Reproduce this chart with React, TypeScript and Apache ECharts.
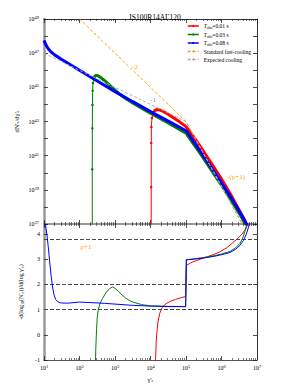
import React, { useEffect, useRef } from 'react';
import * as echarts from 'echarts';

// ---------- data (log10 values) ----------
const chartTitle = 'IS100R14AΓ120';
const xTickExponents = [1, 2, 3, 4, 5, 6, 7];
const yTopTickExponents = [37, 39, 41, 43, 45, 47, 49];
const yBottomTicks = [-1, 0, 1, 2, 3, 4];
const pPlusOne = 3.8;
const guideLevels = [1, 2, pPlusOne];

const seriesNames = ['Tobs=0.01 s', 'Tobs=0.03 s', 'Tobs=0.08 s', 'Standard fast-cooling', 'Expected cooling'];

// top panel: [log10 gamma, log10 dN/dgamma]
const redTopRise = [[4.02, 36.9], [4.02, 39.16], [4.022, 41.74], [4.025, 42.68], [4.04, 43.2], [4.07, 43.45], [4.1, 43.6]];
const redTop = [[4.1, 43.6], [4.17, 43.7], [4.25, 43.68], [4.36, 43.59], [4.45, 43.48], [4.54, 43.37], [4.7, 43.15], [4.82, 42.98], [5.0, 42.7], [5.2, 42.14], [5.39, 41.57], [5.7, 40.6], [5.96, 39.76], [6.15, 39.1], [6.32, 38.5], [6.45, 38.0], [6.58, 37.5], [6.68, 37.1], [6.75, 36.8]];
const greenTopRise = [[2.36, 36.9], [2.36, 40.2], [2.362, 42.6], [2.365, 43.97], [2.37, 44.8], [2.38, 45.25], [2.4, 45.5]];
const greenTop = [[2.4, 45.5], [2.44, 45.66], [2.47, 45.7], [2.52, 45.68], [2.6, 45.57], [2.7, 45.4], [2.8, 45.22], [2.9, 45.03], [3.0, 44.84], [3.1, 44.66], [3.2, 44.5], [3.3, 44.35], [3.4, 44.21], [3.5, 44.08], [3.75, 43.78], [4.0, 43.49], [4.5, 42.92], [5.0, 42.32], [5.2, 41.72], [5.39, 41.16], [5.7, 40.2], [6.0, 39.27], [6.24, 38.5], [6.4, 37.96], [6.52, 37.55], [6.62, 37.18], [6.68, 36.95]];
const blueTop = [[1.0, 47.75], [1.05, 47.5], [1.1, 47.33], [1.15, 47.18], [1.2, 47.07], [1.3, 46.9], [1.5, 46.63], [2.0, 46.0], [2.5, 45.37], [3.0, 44.75], [3.5, 44.16], [4.0, 43.58], [4.5, 43.02], [5.0, 42.46], [5.2, 41.86], [5.39, 41.3], [5.7, 40.34], [6.0, 39.41], [6.24, 38.64], [6.4, 38.1], [6.52, 37.69], [6.62, 37.32], [6.72, 36.93]];
const fastCooling = [[2.0, 49], [5.0, 43], [6.58, 37]];
const expectedCooling = [[1.0, 47], [5.0, 43], [6.58, 37]];

// bottom panel: [log10 gamma, -dlogN/dlog gamma]
const redSlope = [[4.14, -1.1], [4.16, -0.3], [4.18, 0.1], [4.21, 0.5], [4.26, 0.85], [4.33, 1.08], [4.42, 1.22], [4.54, 1.32], [4.7, 1.4], [4.85, 1.47], [4.99, 1.52], [5.01, 2.75], [5.1, 2.83], [5.2, 2.9], [5.4, 3.0], [5.6, 3.1], [5.8, 3.2], [5.96, 3.3], [6.15, 3.46], [6.32, 3.66], [6.45, 3.82], [6.58, 4.0], [6.68, 4.2], [6.76, 4.45]];
const greenSlope = [[2.45, -1.1], [2.46, -0.5], [2.48, 0.2], [2.5, 0.7], [2.53, 1.0], [2.58, 1.25], [2.65, 1.45], [2.75, 1.68], [2.85, 1.84], [2.93, 1.9], [3.0, 1.85], [3.1, 1.72], [3.2, 1.58], [3.3, 1.46], [3.4, 1.37], [3.5, 1.3], [3.75, 1.2], [4.0, 1.15], [4.5, 1.13], [4.99, 1.12], [5.01, 2.98], [5.2, 3.01], [5.5, 3.07], [5.8, 3.14], [6.0, 3.21], [6.24, 3.31], [6.4, 3.46], [6.52, 3.63], [6.6, 3.85], [6.68, 4.2], [6.72, 4.45]];
const blueSlope = [[1.0, 4.6], [1.04, 4.4], [1.08, 4.0], [1.12, 3.5], [1.16, 2.9], [1.2, 2.35], [1.24, 1.9], [1.28, 1.6], [1.33, 1.4], [1.4, 1.3], [1.5, 1.26], [1.7, 1.26], [2.0, 1.3], [2.3, 1.28], [2.7, 1.25], [3.0, 1.22], [3.5, 1.17], [4.0, 1.14], [4.5, 1.12], [4.99, 1.12], [5.01, 2.98], [5.2, 3.0], [5.5, 3.05], [5.8, 3.12], [6.0, 3.18], [6.24, 3.27], [6.4, 3.4], [6.52, 3.55], [6.62, 3.75], [6.7, 4.0], [6.8, 4.45]];

// ---------- styling ----------
const FONT = 'Liberation Serif, DejaVu Serif, serif';
const RED = '#ff0000';
const GREEN = '#008000';
const BLUE = '#0000ff';
const ORANGE = '#ffa500';
const GRAY = '#aaaaaa';

const powPts = (arr: number[][]) => arr.map(([a, b]) => [Math.pow(10, a), Math.pow(10, b)]);
const powX = (arr: number[][]) => arr.map(([a, b]) => [Math.pow(10, a), b]);

const minorTicks: number[] = [];
for (let d = 1; d < 7; d++) for (let k = 2; k <= 9; k++) minorTicks.push(d + Math.log10(k));

const richSup = {
  base: { fontSize: 6, fontFamily: FONT, color: '#000' },
  sup: { fontSize: 4.5, fontFamily: FONT, color: '#000', verticalAlign: 'bottom', padding: [0, 0, 3, 0] },
};

const expLabel = (v: number) => '{base|10}{sup|' + Math.round(v) + '}';

function tickAxis(grid: number, position: string, opts: any = {}) {
  return {
    type: 'value', gridIndex: grid, position, min: 1, max: 7, interval: 1,
    axisLine: { show: false, onZero: false },
    axisTick: { show: true, inside: true, length: 4, lineStyle: { color: '#222', width: 0.8 } },
    axisLabel: { show: false },
    splitLine: { show: false },
    ...opts,
  };
}

function minorAxis(grid: number, position: string) {
  return {
    type: 'value', gridIndex: grid, position, min: 1, max: 7,
    axisLine: { show: false, onZero: false },
    axisTick: { show: true, inside: true, length: 2, customValues: minorTicks, lineStyle: { color: '#222', width: 0.6 } },
    axisLabel: { show: false },
    splitLine: { show: false },
  };
}

function buildOption() {
  const thick = (name: string, color: string, data: number[][], z: number) => ({
    type: 'line', name, xAxisIndex: 0, yAxisIndex: 0, data: powPts(data),
    showSymbol: false, symbol: 'none', lineStyle: { color, width: 3 }, itemStyle: { color }, z,
  });
  const rise = (name: string, color: string, data: number[][], z: number) => ({
    type: 'line', name, xAxisIndex: 0, yAxisIndex: 0, data: powPts(data),
    showSymbol: true, symbol: 'circle', symbolSize: 2.5, lineStyle: { color, width: 1 }, itemStyle: { color }, z,
  });
  const slope = (name: string, color: string, data: number[][], z: number, extra: any = {}) => ({
    type: 'line', name, xAxisIndex: 1, yAxisIndex: 1, data: powX(data),
    showSymbol: false, symbol: 'none', lineStyle: { color, width: 1 }, itemStyle: { color }, z, ...extra,
  });

  return {
    animation: false,
    backgroundColor: '#fff',
    title: {
      text: chartTitle, left: 150, top: 8, textAlign: 'center',
      textStyle: { fontFamily: FONT, fontSize: 7.5, fontWeight: 'normal', color: '#000' },
    },
    legend: {
      orient: 'vertical', left: 187, top: 23, padding: 0, itemWidth: 11, itemHeight: 2.5, itemGap: 2,
      data: seriesNames,
      lineStyle: { width: 1.5 },
      textStyle: {
        fontFamily: FONT, fontSize: 5.5, color: '#000',
        rich: {
          it: { fontFamily: FONT, fontSize: 5.5, fontStyle: 'italic' },
          sub: { fontFamily: FONT, fontSize: 4, verticalAlign: 'top', padding: [3, 0, 0, 0] },
        },
      },
      formatter: (n: string) => (n.startsWith('Tobs') ? '{it|T}{sub|obs}' + n.slice(4) : n),
    },
    grid: [
      { left: 44, top: 19, width: 213, height: 205 },
      { left: 44, top: 224, width: 213, height: 136 },
    ],
    xAxis: [
      { type: 'log', logBase: 10, gridIndex: 0, position: 'bottom', min: 10, max: 1e7,
        axisLine: { show: true, onZero: false, lineStyle: { color: '#999', width: 2 } },
        axisTick: { show: false }, axisLabel: { show: false }, splitLine: { show: false } },
      { type: 'log', logBase: 10, gridIndex: 1, position: 'bottom', min: 10, max: 1e7,
        axisLine: { show: true, onZero: false, lineStyle: { color: '#555', width: 1.2 } },
        axisTick: { show: false }, axisLabel: { show: false }, splitLine: { show: false },
        name: "γ'{sub|e}", nameLocation: 'middle', nameGap: 15,
        nameTextStyle: { fontFamily: FONT, fontSize: 6.5, color: '#000', rich: { sub: { fontFamily: FONT, fontSize: 4.5, verticalAlign: 'top', padding: [3, 0, 0, 0] } } } },
      tickAxis(0, 'bottom'),
      tickAxis(0, 'top', { axisLine: { show: true, onZero: false, lineStyle: { color: '#000', width: 0.8 } } }),
      tickAxis(1, 'bottom', {
        axisLabel: { show: true, margin: 4, formatter: (v: number) => (xTickExponents.includes(Math.round(v)) ? expLabel(v) : ''), rich: richSup },
      }),
      tickAxis(1, 'top'),
      minorAxis(0, 'bottom'),
      minorAxis(0, 'top'),
      minorAxis(1, 'bottom'),
      minorAxis(1, 'top'),
    ],
    yAxis: [
      { type: 'log', logBase: 10, gridIndex: 0, position: 'left', min: 1e37, max: 1e49,
        axisLine: { show: true, onZero: false, lineStyle: { color: '#999', width: 2.5 } },
        axisTick: { show: false }, axisLabel: { show: false }, splitLine: { show: false },
        name: "dN'{sub|e}/dγ'{sub|e}", nameLocation: 'middle', nameGap: 24, nameRotate: 90,
        nameTextStyle: { fontFamily: FONT, fontSize: 6.5, color: '#000', rich: { sub: { fontFamily: FONT, fontSize: 4.5, verticalAlign: 'top', padding: [3, 0, 0, 0] } } } },
      { type: 'value', gridIndex: 1, position: 'left', min: -1, max: 4.4, interval: 1,
        axisLine: { show: true, onZero: false, lineStyle: { color: '#999', width: 2.5 } },
        axisTick: { show: true, inside: true, length: 4, lineStyle: { color: '#222', width: 0.8 } },
        axisLabel: { show: true, margin: 4, fontFamily: FONT, fontSize: 6, color: '#000',
          formatter: (v: number) => (yBottomTicks.includes(v) ? String(v) : '') },
        splitLine: { show: false },
        name: "-d(log{sub|10}(N'{sub|e}))/d(log γ'{sub|e})", nameLocation: 'middle', nameGap: 12, nameRotate: 90,
        nameTextStyle: { fontFamily: FONT, fontSize: 6, color: '#000', rich: { sub: { fontFamily: FONT, fontSize: 4.2, verticalAlign: 'top', padding: [3, 0, 0, 0] } } } },
      { type: 'value', gridIndex: 0, position: 'left', min: 37, max: 49, interval: 1,
        axisLine: { show: false, onZero: false },
        axisTick: { show: true, inside: true, length: 4, lineStyle: { color: '#222', width: 0.8 } },
        axisLabel: { show: true, margin: 5, formatter: (v: number) => (yTopTickExponents.includes(v) ? expLabel(v) : ''), rich: richSup },
        splitLine: { show: false } },
      { type: 'value', gridIndex: 0, position: 'right', min: 37, max: 49, interval: 1,
        axisLine: { show: true, onZero: false, lineStyle: { color: '#000', width: 0.8 } },
        axisTick: { show: true, inside: true, length: 4, lineStyle: { color: '#222', width: 0.8 } },
        axisLabel: { show: false }, splitLine: { show: false } },
      { type: 'value', gridIndex: 1, position: 'right', min: -1, max: 4.4, interval: 1,
        axisLine: { show: true, onZero: false, lineStyle: { color: '#000', width: 0.8 } },
        axisTick: { show: true, inside: true, length: 4, lineStyle: { color: '#222', width: 0.8 } },
        axisLabel: { show: false }, splitLine: { show: false } },
    ],
    series: [
      thick(seriesNames[0], RED, redTop, 3),
      rise(seriesNames[0], RED, redTopRise, 3),
      thick(seriesNames[1], GREEN, greenTop, 4),
      rise(seriesNames[1], GREEN, greenTopRise, 4),
      thick(seriesNames[2], BLUE, blueTop, 5),
      { type: 'line', name: seriesNames[3], xAxisIndex: 0, yAxisIndex: 0, data: powPts(fastCooling),
        showSymbol: false, symbol: 'none', lineStyle: { color: ORANGE, width: 1, type: [3, 2] }, itemStyle: { color: ORANGE }, z: 6 },
      { type: 'line', name: seriesNames[4], xAxisIndex: 0, yAxisIndex: 0, data: powPts(expectedCooling),
        showSymbol: false, symbol: 'none', lineStyle: { color: GRAY, width: 1, type: [3, 2] }, itemStyle: { color: GRAY }, z: 6 },
      slope(seriesNames[0], RED, redSlope, 3),
      slope(seriesNames[1], GREEN, greenSlope, 4),
      slope(seriesNames[2], BLUE, blueSlope, 5, {
        markLine: {
          silent: true, symbol: ['none', 'none'], label: { show: false },
          lineStyle: { color: '#444', width: 1, type: [4, 2] },
          data: guideLevels.map((v) => ({ yAxis: v })),
        },
      }),
    ],
    graphic: [
      { type: 'text', x: 135, y: 67, style: { text: '-2', fill: ORANGE, fontSize: 7, fontFamily: FONT, align: 'center', verticalAlign: 'middle' } },
      { type: 'text', x: 153, y: 100, style: { text: '-1', fill: '#888', fontSize: 7, fontFamily: FONT, align: 'center', verticalAlign: 'middle' } },
      { type: 'text', x: 236, y: 177, style: { text: '-(p+1)', fill: ORANGE, fontSize: 7, fontFamily: FONT, align: 'center', verticalAlign: 'middle' } },
      { type: 'text', x: 86, y: 247, style: { text: 'p+1', fill: ORANGE, fontSize: 7, fontFamily: FONT, align: 'center', verticalAlign: 'middle' } },
    ],
  };
}

export default function App() {
  const ref = useRef<HTMLDivElement>(null);
  useEffect(() => {
    if (!ref.current) return;
    const chart = echarts.init(ref.current, null, { renderer: 'svg' });
    chart.setOption(buildOption() as any);
    return () => chart.dispose();
  }, []);
  return (
    <div
      ref={ref}
      style={{ position: 'fixed', left: 0, top: 0, width: 294, height: 392, background: '#fff' }}
    />
  );
}
